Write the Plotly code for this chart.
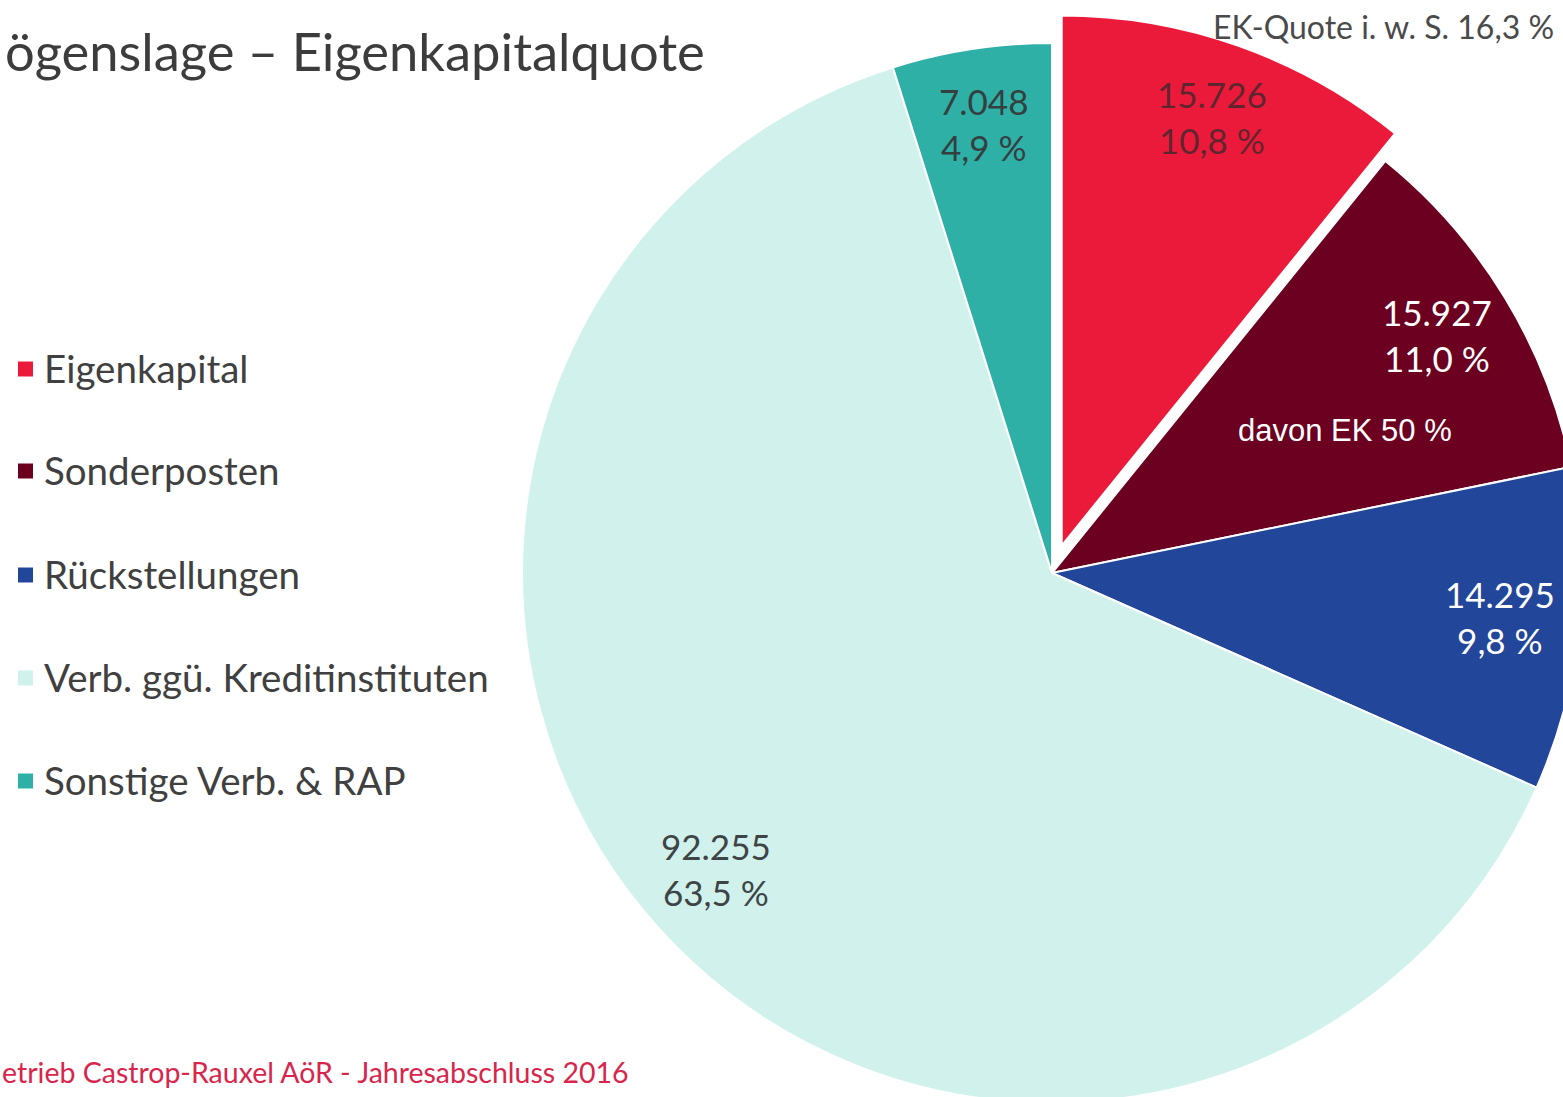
import math
import plotly.graph_objects as go

# ---- data ----
categories = ["Eigenkapital", "Sonderposten", "Rückstellungen",
              "Verb. ggü. Kreditinstituten", "Sonstige Verb. & RAP"]
values = [15726, 15927, 14295, 92255, 7048]
colors = ["#EC1A3A", "#6B0020", "#22469A", "#D0F1EC", "#2FB0A6"]
label_colors = ["rgba(70,40,45,0.85)", "#FFFFFF", "#FFFFFF", "#3E4446", "#34403F"]
pulls = [0.055, 0, 0, 0, 0]
title_text = "ögenslage – Eigenkapitalquote"
footer_text = "etrieb Castrop-Rauxel AöR - Jahresabschluss 2016"
ek_quote_text = "EK-Quote i. w. S. 16,3 %"
davon_text = "davon EK 50 %"

# ---- canvas (larger than the window; the window crops it) ----
W, H = 1640, 1160
FONT = "Lato"


def px(x):
    return x / W


def py(y):
    return 1 - y / H


cx, cy, r = 1052, 573, 530
S = r * (1 + max(pulls))
dom_x = [px(cx - S), px(cx + S)]
dom_y = [py(cy + S), py(cy - S)]


def de(n):
    return f"{n:,}".replace(",", ".")


def pct(v):
    return f"{v:.1f}".replace(".", ",") + " %"


total = sum(values)

fig = go.Figure()
fig.add_trace(go.Pie(
    labels=categories, values=values, sort=False, direction="clockwise",
    rotation=0, pull=pulls, textinfo="none", hoverinfo="skip",
    marker=dict(colors=colors, line=dict(color="white", width=2)),
    domain=dict(x=dom_x, y=dom_y), showlegend=False,
))

annotations = []
cum = 0
for i, v in enumerate(values):
    mid = (cum + v / 2) / total * 2 * math.pi
    cum += v
    ox = cx + pulls[i] * r * math.sin(mid)
    oy = cy - pulls[i] * r * math.cos(mid)
    lx = ox + 0.85 * r * math.sin(mid)
    ly = oy - 0.85 * r * math.cos(mid) - 4
    annotations.append(dict(
        x=px(lx), y=py(ly), xref="paper", yref="paper",
        text=f"{de(v)}<br>{pct(v / total * 100)}", showarrow=False,
        font=dict(family=FONT, size=35, color=label_colors[i]),
        align="center", xanchor="center", yanchor="middle"))

# title (left part cropped by the slide edge)
annotations.append(dict(x=px(3), y=py(50), xref="paper", yref="paper",
                        text=title_text, showarrow=False, xanchor="left",
                        yanchor="middle",
                        font=dict(family=FONT, size=52.5, color="#3C3C3C")))
annotations.append(dict(x=px(1556), y=py(27), xref="paper", yref="paper",
                        text=ek_quote_text, showarrow=False, xanchor="right",
                        yanchor="middle",
                        font=dict(family=FONT, size=32, color="#4A4A4A")))
annotations.append(dict(x=px(1345), y=py(430), xref="paper", yref="paper",
                        text=davon_text, showarrow=False, xanchor="center",
                        yanchor="middle",
                        font=dict(family="Liberation Sans", size=31, color="white")))
annotations.append(dict(x=px(0), y=py(1072), xref="paper", yref="paper",
                        text=footer_text, showarrow=False, xanchor="left",
                        yanchor="middle",
                        font=dict(family=FONT, size=28.5, color="#D8254C")))

# legend
shapes = []
leg_y = [369, 471, 575, 678, 781]
for i, cat in enumerate(categories):
    yc = leg_y[i]
    shapes.append(dict(type="rect", xref="paper", yref="paper",
                       x0=px(18), x1=px(33), y0=py(yc + 7.5), y1=py(yc - 7.5),
                       fillcolor=colors[i], line=dict(width=0)))
    annotations.append(dict(x=px(42), y=py(yc - 1), xref="paper", yref="paper",
                            text=cat, showarrow=False, xanchor="left",
                            yanchor="middle",
                            font=dict(family=FONT, size=38.5, color="#404040")))

fig.update_layout(
    width=W, height=H, margin=dict(l=0, r=0, t=0, b=0),
    paper_bgcolor="white", plot_bgcolor="white",
    annotations=annotations, shapes=shapes, showlegend=False,
)

fig.write_html("out.html",
               post_script="document.body.style.margin='0';document.body.style.overflow='hidden';")
